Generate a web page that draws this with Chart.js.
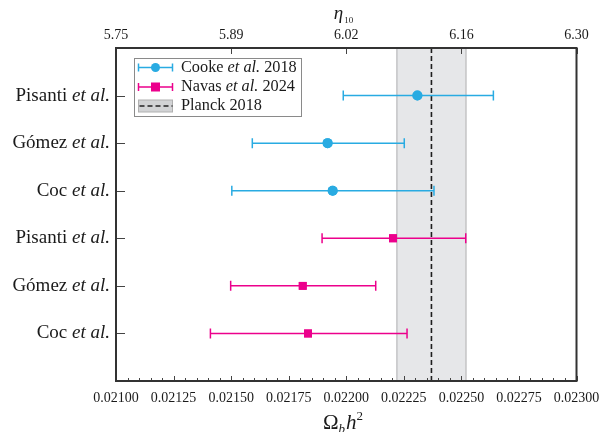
<!DOCTYPE html>
<html>
<head>
<meta charset="utf-8">
<script src="https://cdn.jsdelivr.net/npm/chart.js@4.4.1/dist/chart.umd.min.js"></script>
<style>
html,body{margin:0;padding:0;background:#fff;}
#wrap{width:600px;height:432px;position:relative;}
</style>
</head>
<body>
<div id="wrap"><canvas id="c"></canvas></div>
<script>
// ---- data ----
const categories = ['Pisanti', 'Gómez', 'Coc', 'Pisanti', 'Gómez', 'Coc'];
const categorySuffix = 'et al.';
const cookeRows = [1, 2, 3];
const cookeCentral = [0.022309, 0.021919, 0.021941];
const cookeLow = [0.021987, 0.021592, 0.021503];
const cookeHigh = [0.022639, 0.022252, 0.022381];
const navasRows = [4, 5, 6];
const navasCentral = [0.022203, 0.021811, 0.021834];
const navasLow = [0.021895, 0.021498, 0.021410];
const navasHigh = [0.022519, 0.022128, 0.022264];
const planckCentral = [0.02237];
const planckSigma = [0.00015];
const xTicks = [0.021, 0.02125, 0.0215, 0.02175, 0.022, 0.02225, 0.0225, 0.02275, 0.023];
const topTickValues = [5.75, 5.8875, 6.025, 6.1625, 6.30];
const topTickLabels = ['5.75', '5.89', '6.02', '6.16', '6.30'];
const legendLabels = [['Cooke ', 'et al.', ' 2018'], ['Navas ', 'et al.', ' 2024'], ['Planck 2018', '', '']];

const SERIF = "'Liberation Serif', 'Times New Roman', serif";
const BLUE = '#29abe2';
const MAGENTA = '#ec008c';
const TXT = '#1a1a1a';

const overlay = {
  id: 'overlay',
  beforeDatasetsDraw(chart) {
    const {ctx, chartArea: a, scales} = chart;
    const x = scales.x;
    ctx.save();
    const lo = x.getPixelForValue(planckCentral[0] - planckSigma[0]);
    const hi = x.getPixelForValue(planckCentral[0] + planckSigma[0]);
    ctx.fillStyle = '#e6e7e9';
    ctx.fillRect(lo, a.top, hi - lo, a.bottom - a.top);
    ctx.strokeStyle = '#c4c4c6';
    ctx.lineWidth = 1.5;
    ctx.beginPath();
    ctx.moveTo(lo, a.top); ctx.lineTo(lo, a.bottom);
    ctx.moveTo(hi, a.top); ctx.lineTo(hi, a.bottom);
    ctx.stroke();
    ctx.restore();
  },
  afterDatasetsDraw(chart) {
    const {ctx, scales} = chart;
    const x = scales.x, y = scales.y;
    ctx.save();
    chart.data.datasets.forEach((ds) => {
      if (!ds.errLow) return;
      ctx.strokeStyle = ds.borderColor;
      ctx.lineWidth = 1.5;
      ds.data.forEach((p, i) => {
        const py = y.getPixelForValue(p.y);
        const l = x.getPixelForValue(ds.errLow[i]);
        const h = x.getPixelForValue(ds.errHigh[i]);
        ctx.beginPath();
        ctx.moveTo(l, py); ctx.lineTo(h, py);
        ctx.moveTo(l, py - 5); ctx.lineTo(l, py + 5);
        ctx.moveTo(h, py - 5); ctx.lineTo(h, py + 5);
        ctx.stroke();
      });
    });
    ctx.restore();
  },
  afterDraw(chart) {
    const {ctx, chartArea: a, scales} = chart;
    const x = scales.x, y = scales.y, x2 = scales.x2;
    ctx.save();
    chart.data.datasets.forEach((ds, di) => {
      if (!ds.errLow) return;
      const meta = chart.getDatasetMeta(di);
      meta.data.forEach(el => el.draw(ctx, a));
    });
    ctx.strokeStyle = '#444';
    ctx.lineWidth = 1;
    ctx.beginPath();
    for (let k = 0; k <= 40; k++) {
      const v = 0.021 + k * 0.00005;
      const px = Math.round(x.getPixelForValue(v)) + 0.5;
      const len = (k % 5 === 0) ? 5 : 3;
      ctx.moveTo(px, a.bottom); ctx.lineTo(px, a.bottom - len);
    }
    topTickValues.forEach(v => {
      const px = Math.round(x2.getPixelForValue(v)) + 0.5;
      ctx.moveTo(px, a.top); ctx.lineTo(px, a.top + 6);
    });
    categories.forEach((c, i) => {
      const py = Math.round(y.getPixelForValue(i + 1)) + 0.5;
      ctx.moveTo(a.left, py); ctx.lineTo(a.left + 9, py);
    });
    ctx.stroke();
    ctx.strokeStyle = '#333';
    ctx.lineWidth = 2;
    ctx.strokeRect(a.left, a.top, a.right - a.left, a.bottom - a.top);

    ctx.fillStyle = TXT;
    ctx.textBaseline = 'middle';
    ctx.textAlign = 'left';
    const fN = '19px ' + SERIF, fI = 'italic 19px ' + SERIF;
    categories.forEach((c, i) => {
      const py = y.getPixelForValue(i + 1);
      ctx.font = fN; const w1 = ctx.measureText(c + ' ').width;
      ctx.font = fI; const w2 = ctx.measureText(categorySuffix).width;
      const x0 = 110 - w1 - w2;
      ctx.font = fN; ctx.fillText(c + ' ', x0, py);
      ctx.font = fI; ctx.fillText(categorySuffix, x0 + w1, py);
    });

    ctx.textBaseline = 'alphabetic';
    ctx.font = 'italic 19px ' + SERIF;
    const we = ctx.measureText('η').width;
    ctx.font = '9px ' + SERIF;
    const ws = ctx.measureText('10').width;
    let tx = 343 - (we + ws) / 2;
    ctx.font = 'italic 19px ' + SERIF; ctx.fillText('η', tx, 19);
    ctx.font = '9px ' + SERIF; ctx.fillText('10', tx + we + 1, 23);

    const parts = [['Ω', '21px', 0], ['b', 'italic 13px', 4], ['h', 'italic 21px', 0], ['2', '13px', -9]];
    let tw = 0;
    parts.forEach(p => { ctx.font = p[1] + ' ' + SERIF; tw += ctx.measureText(p[0]).width + (p[0]==='h'?1:0); });
    tx = 343 - tw / 2;
    parts.forEach(p => {
      ctx.font = p[1] + ' ' + SERIF;
      if (p[0]==='h') tx += 1;
      ctx.fillText(p[0], tx, 429 + p[2]);
      tx += ctx.measureText(p[0]).width;
    });

    const L = 134.5, T = 58.5, R = 301.5, B = 116.5;
    ctx.fillStyle = '#fff';
    ctx.fillRect(L, T, R - L, B - T);
    ctx.strokeStyle = '#8a8a8a';
    ctx.lineWidth = 1;
    ctx.strokeRect(L, T, R - L, B - T);
    const rows = [67.5, 87, 106];
    const mx0 = 138.5, mx1 = 172.5, mc = 155.5;
    [[BLUE, 'circle'], [MAGENTA, 'rect']].forEach((m, i) => {
      const ry = rows[i];
      ctx.strokeStyle = m[0]; ctx.lineWidth = 1.5;
      ctx.beginPath();
      ctx.moveTo(mx0, ry); ctx.lineTo(mx1, ry);
      ctx.moveTo(mx0, ry - 4); ctx.lineTo(mx0, ry + 4);
      ctx.moveTo(mx1, ry - 4); ctx.lineTo(mx1, ry + 4);
      ctx.stroke();
      ctx.fillStyle = m[0];
      if (m[1] === 'circle') { ctx.beginPath(); ctx.arc(mc, ry, 4.5, 0, Math.PI * 2); ctx.fill(); }
      else ctx.fillRect(mc - 4.5, ry - 4.5, 9, 9);
    });
    ctx.fillStyle = '#d2d3d5';
    ctx.fillRect(mx0, 100, mx1 - mx0, 12);
    ctx.strokeStyle = '#b0b0b0'; ctx.lineWidth = 1;
    ctx.strokeRect(mx0, 100, mx1 - mx0, 12);
    ctx.strokeStyle = '#222'; ctx.lineWidth = 1.5; ctx.setLineDash([5, 3]);
    ctx.beginPath(); ctx.moveTo(mx0 + 1, 106); ctx.lineTo(mx1, 106); ctx.stroke();
    ctx.setLineDash([]);
    ctx.fillStyle = TXT;
    ctx.textBaseline = 'middle';
    legendLabels.forEach((lab, i) => {
      let lx = 181;
      lab.forEach((s, j) => {
        if (!s) return;
        ctx.font = (j === 1 ? 'italic ' : '') + '16.3px ' + SERIF;
        ctx.fillText(s, lx, rows[i]);
        lx += ctx.measureText(s).width;
      });
    });
    ctx.restore();
  }
};

const noPad = s => { s.paddingLeft = 0; s.paddingRight = 0; };

new Chart(document.getElementById('c'), {
  type: 'scatter',
  data: {
    datasets: [
      {
        label: 'Cooke et al. 2018',
        data: cookeCentral.map((v, i) => ({x: v, y: cookeRows[i]})),
        errLow: cookeLow, errHigh: cookeHigh,
        backgroundColor: BLUE, borderColor: BLUE, borderWidth: 0,
        pointStyle: 'circle', pointRadius: 5, order: 1
      },
      {
        label: 'Navas et al. 2024',
        data: navasCentral.map((v, i) => ({x: v, y: navasRows[i]})),
        errLow: navasLow, errHigh: navasHigh,
        backgroundColor: MAGENTA, borderColor: MAGENTA, borderWidth: 0,
        pointStyle: 'rect', pointRadius: 5.6, order: 2
      },
      {
        type: 'line',
        label: 'Planck 2018',
        data: [{x: planckCentral[0], y: 0}, {x: planckCentral[0], y: 7}],
        borderColor: '#1e1e1e', borderWidth: 1.6, borderDash: [5, 3],
        pointRadius: 0, fill: false, order: 3
      }
    ]
  },
  options: {
    responsive: true,
    maintainAspectRatio: false,
    animation: false,
    layout: {padding: {left: 0, right: 23.5, top: 0, bottom: 0}},
    plugins: {legend: {display: false}, tooltip: {enabled: false}},
    scales: {
      x: {
        type: 'linear', position: 'bottom', min: 0.021, max: 0.023,
        afterBuildTicks: s => { s.ticks = xTicks.map(v => ({value: v})); },
        afterFit: s => { s.height = 51; noPad(s); },
        ticks: {callback: v => Number(v).toFixed(5), font: {family: SERIF, size: 14}, color: TXT, padding: 9, maxRotation: 0, autoSkip: false},
        grid: {display: false, drawTicks: false},
        border: {display: false}
      },
      x2: {
        type: 'linear', position: 'top', min: 5.75, max: 6.30,
        afterBuildTicks: s => { s.ticks = topTickValues.map(v => ({value: v})); },
        afterFit: s => { s.height = 48; noPad(s); },
        ticks: {callback: (v, i) => topTickLabels[i], font: {family: SERIF, size: 14}, color: TXT, padding: 4, maxRotation: 0, autoSkip: false},
        grid: {display: false, drawTicks: false},
        border: {display: false}
      },
      y: {
        type: 'linear', min: 0, max: 7, reverse: true,
        afterBuildTicks: s => { s.ticks = categories.map((c, i) => ({value: i + 1})); },
        afterFit: s => { s.width = 116; s.paddingTop = 0; s.paddingBottom = 0; },
        ticks: {display: false},
        grid: {display: false, drawTicks: false},
        border: {display: false}
      }
    }
  },
  plugins: [overlay]
});
</script>
</body>
</html>
